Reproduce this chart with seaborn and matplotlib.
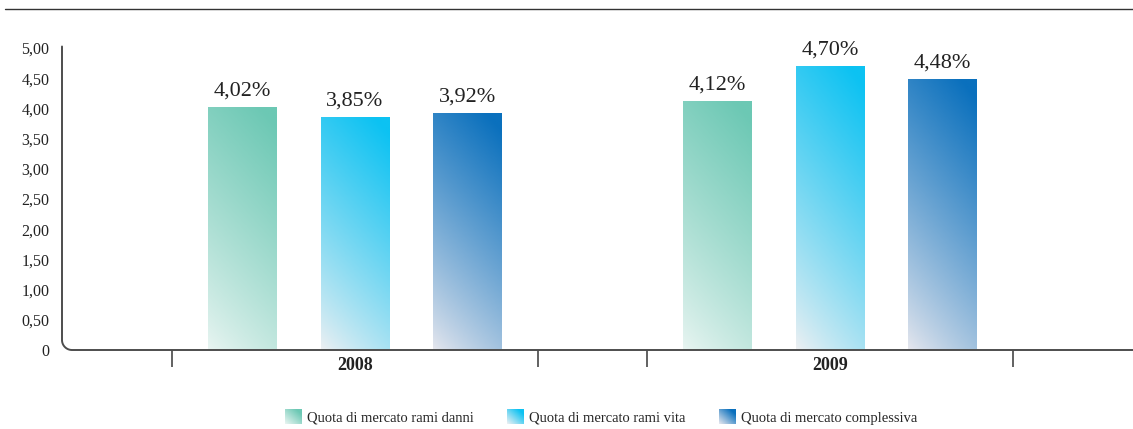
import numpy as np
import pandas as pd
import seaborn as sns
import matplotlib.pyplot as plt
from matplotlib.colors import LinearSegmentedColormap, Normalize
from matplotlib.legend_handler import HandlerBase
from matplotlib.image import BboxImage
from matplotlib.transforms import Bbox, TransformedBbox
from matplotlib.patches import Patch
from matplotlib.lines import Line2D

# dati
anni = ["2008", "2009"]
serie = ["Quota di mercato rami danni", "Quota di mercato rami vita", "Quota di mercato complessiva"]
danni = [4.02, 4.12]
vita = [3.85, 4.70]
complessiva = [3.92, 4.48]
y_ticks = [0, 0.5, 1.0, 1.5, 2.0, 2.5, 3.0, 3.5, 4.0, 4.5, 5.0]
y_labels = ["0", "0,50", "1,00", "1,50", "2,00", "2,50", "3,00", "3,50", "4,00", "4,50", "5,00"]

# colori (chiaro in basso, saturo in alto)
colori = {
    serie[0]: ("#e9f5f2", "#6cc8b4"),
    serie[1]: ("#eef0f3", "#0cc2f2"),
    serie[2]: ("#e6e7ee", "#0a70bd"),
}

df = pd.DataFrame({
    "anno": anni * 3,
    "serie": [serie[0]] * 2 + [serie[1]] * 2 + [serie[2]] * 2,
    "valore": danni + vita + complessiva,
})

sns.set_style("white")
plt.rcParams["font.family"] = ["Liberation Serif", "DejaVu Serif"]

W, H = 1133, 429
fig = plt.figure(figsize=(W / 100, H / 100), dpi=100)
ax = fig.add_axes([62 / W, 79 / H, (W - 62) / W, 302 / H])

sns.barplot(data=df, x="anno", y="valore", hue="serie", hue_order=serie,
            width=0.71, gap=0.39, legend=False, ax=ax, zorder=1)


def gradiente(n=120, m=60):
    v = np.linspace(0, 1, n)[:, None]
    u = np.linspace(0, 1, m)[None, :]
    return np.clip(0.8 * v + 0.25 * u, 0, 1) ** 0.85


cmaps = {s: LinearSegmentedColormap.from_list(s, colori[s]) for s in serie}

for s, cont in zip(serie, ax.containers):
    for bar in cont:
        x, w, h = bar.get_x(), bar.get_width(), bar.get_height()
        bar.set_alpha(0)
        ax.imshow(gradiente(), cmap=cmaps[s], norm=Normalize(0, 1), origin="lower",
                  extent=[x, x + w, 0, h], aspect="auto", zorder=2,
                  interpolation="bilinear")
    lab = [f"{b.get_height():.2f}%".replace(".", ",") for b in cont]
    ax.bar_label(cont, labels=lab, padding=5, fontsize=16, color="#222222")

ax.set_xlim(-0.617, 1.638)
ax.set_ylim(0, 5.0)
ax.set_yticks(y_ticks)
ax.set_yticklabels(y_labels, fontsize=11.5, color="#222222")
ax.tick_params(axis="y", length=0, pad=9)
ax.set_xticks([0, 1])
ax.set_xticklabels(anni, fontsize=13, fontweight="bold", color="#222222")
ax.set_xticks([-0.385, 0.385, 0.615, 1.385], minor=True)
ax.tick_params(axis="x", which="major", length=0, pad=5)
ax.tick_params(axis="x", which="minor", bottom=True, length=12, width=1.3,
               color="#555555", direction="out")
ax.set_xlabel("")
ax.set_ylabel("")
for sp in ax.spines.values():
    sp.set_visible(False)
ax.grid(False)

# assi con angolo arrotondato
rx, ry = 10 / (W - 62), 10 / 302
th = np.linspace(np.pi, 1.5 * np.pi, 20)
px = np.concatenate([[0, 0], rx + rx * np.cos(th), [1]])
py = np.concatenate([[1.005, ry], ry + ry * np.sin(th), [0]])
ax.plot(px, py, transform=ax.transAxes, color="#4d4d4d", lw=1.4, clip_on=False, zorder=5)

# linea in alto
fig.add_artist(Line2D([5 / W, 1], [1 - 9 / H] * 2, transform=fig.transFigure, color="#333333", lw=1))


class GradHandler(HandlerBase):
    def __init__(self, cmap):
        super().__init__()
        self.cmap = cmap

    def create_artists(self, legend, orig_handle, xdescent, ydescent, width, height, fontsize, trans):
        bb = TransformedBbox(Bbox.from_bounds(-xdescent, -ydescent, width, height), trans)
        img = BboxImage(bb, cmap=self.cmap, norm=Normalize(0, 1), interpolation="bilinear", origin="lower")
        v = np.linspace(0, 1, 30)[:, None]
        u = np.linspace(0, 1, 30)[None, :]
        img.set_data(np.clip(0.6 * v + 0.6 * u, 0, 1))
        return [img]


handles = [Patch(label=s) for s in serie]
hmap = {h: GradHandler(cmaps[s]) for h, s in zip(handles, serie)}
fig.legend(handles=handles, handler_map=hmap, ncol=3, loc="center",
           bbox_to_anchor=(601 / W, 1 - 417 / H), frameon=False, fontsize=10.5,
           handlelength=1.15, handleheight=1.15, handletextpad=0.35, columnspacing=2.3)

fig.savefig("out.png", dpi=100)
